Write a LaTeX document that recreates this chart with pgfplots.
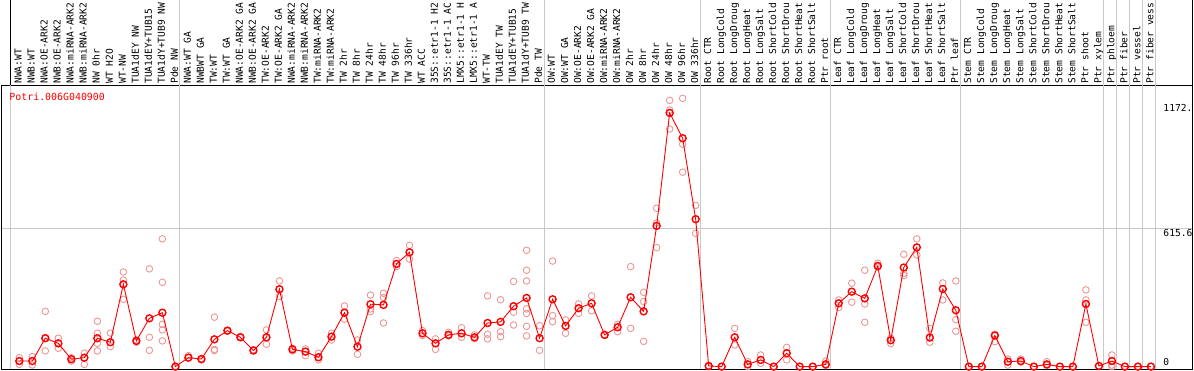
\documentclass[border=0pt]{standalone}
\usepackage{fontspec}
\usepackage{pgfplots}
\usepackage{pgfplotstable}
\pgfplotsset{compat=1.18}
\newfontfamily\monofont{DejaVu Sans Mono}
\definecolor{repcol}{RGB}{236,150,150}
\definecolor{gridgray}{RGB}{200,200,200}

\pgfplotstableread{
x y
0 25
1 25
2 127
3 104
4 33
5 40
6 127
7 109
8 368
9 115
10 216
11 241
12 0
13 40
14 34
15 122
16 161
17 131
18 72
19 131
20 346
21 77
22 67
23 42
24 134
25 241
26 89
27 279
28 276
29 459
30 511
31 149
32 104
33 142
34 149
35 131
36 195
37 200
38 270
39 307
40 127
41 301
42 182
43 261
44 283
45 142
46 176
47 310
48 247
49 629
50 1134
51 1021
52 659
53 3
54 0
55 131
56 10
57 30
58 0
59 60
60 0
61 0
62 10
63 283
64 335
65 305
66 450
67 118
68 443
69 533
70 130
71 347
72 252
73 0
74 0
75 139
76 22
77 25
78 0
79 10
80 0
81 0
82 280
83 3
84 25
85 0
86 0
87 0
}\means

\pgfplotstableread{
x y
0 40
0 10
0 25
1 45
1 7
2 247
2 127
2 70
3 127
3 82
4 40
4 25
5 60
5 10
6 203
6 149
6 104
6 70
7 150
7 89
8 423
8 387
8 301
9 119
9 109
10 437
10 131
10 73
11 571
11 377
11 189
11 164
11 115
12 0
13 49
13 40
14 34
14 30
15 221
15 77
15 72
16 161
16 158
17 131
17 135
18 72
18 76
19 164
19 100
20 383
20 313
21 82
21 70
22 79
22 49
23 60
23 30
24 149
24 119
25 271
25 212
26 119
26 55
27 320
27 258
27 246
28 328
28 308
28 195
29 474
29 447
30 542
30 481
31 161
31 139
32 124
32 77
33 153
33 137
34 174
34 131
35 142
35 125
36 316
36 145
36 124
37 299
37 156
37 134
38 381
38 243
38 186
39 520
39 431
39 383
39 258
39 238
39 180
39 137
40 183
40 73
41 472
41 228
41 201
42 209
42 149
43 280
43 238
44 316
44 250
45 142
45 140
46 189
46 156
47 447
47 171
48 332
48 291
48 113
49 708
49 642
49 532
50 1190
50 1147
50 1062
51 1199
51 994
51 869
52 721
52 596
53 3
53 0
54 0
55 171
55 97
56 22
56 0
57 52
57 15
58 0
59 86
59 30
60 0
61 0
62 25
62 5
63 298
63 264
64 373
64 288
65 431
65 280
65 198
66 462
66 445
67 127
67 103
68 502
68 417
68 407
69 571
69 499
70 171
70 109
71 374
71 298
72 383
72 210
72 158
73 0
74 0
75 145
75 112
76 34
76 7
77 34
77 20
78 0
79 22
79 5
80 0
81 0
82 343
82 298
82 198
83 3
84 52
84 7
84 0
85 0
86 0
87 0
}\reps

\begin{document}
\begin{tikzpicture}
\begin{axis}[name=ax, scale only axis, width=1191.7pt, height=284pt,
  xmin=-1.407, xmax=90.213, ymin=-10.7, ymax=1258.8,
  clip mode=individual,
  axis line style={black, line width=0.9pt},
  xtick={0,...,87},
  xticklabels={{NWA:WT},{NWB:WT},{NWA:OE-ARK2},{NWB:OE-ARK2},{NWA:miRNA-ARK2},{NWB:miRNA-ARK2},{NW 0hr},{WT H2O},{WT-NW},{TUA1dEY NW},{TUA1dEY+TUB15},{TUA1dY+TUB9 NW},{Pde NW},
  {NWA:WT GA},{NWBWT GA},{TW:WT},{TW:WT GA},{NWA:OE-ARK2 GA},{NWB:OE-ARK2 GA},{TW:OE-ARK2},{TW:OE-ARK2 GA},{NWA:miRNA-ARK2},{NWB:miRNA-ARK2},{TW:miRNA-ARK2},{TW:miRNA-ARK2},{TW 2hr},{TW 8hr},{TW 24hr},{TW 48hr},{TW 96hr},{TW 336hr},{WT ACC},{35S::etr1-1 H2},{35S::etr1-1 AC},{LMX5::etr1-1 H},{LMX5::etr1-1 A},{WT-TW},{TUA1dEY TW},{TUA1dEY+TUB15},{TUA1dY+TUB9 TW},{Pde TW},
  {OW:WT},{OW:WT GA},{OW:OE-ARK2},{OW:OE-ARK2 GA},{OW:miRNA-ARK2},{OW:miRNA-ARK2},{OW 2hr},{OW 8hr},{OW 24hr},{OW 48hr},{OW 96hr},{OW 336hr},
  {Root CTR},{Root LongCold},{Root LongDroug},{Root LongHeat},{Root LongSalt},{Root ShortCold},{Root ShortDrou},{Root ShortHeat},{Root ShortSalt},{Ptr root},
  {Leaf CTR},{Leaf LongCold},{Leaf LongDroug},{Leaf LongHeat},{Leaf LongSalt},{Leaf ShortCold},{Leaf ShortDrou},{Leaf ShortHeat},{Leaf ShortSalt},{Ptr leaf},
  {Stem CTR},{Stem LongCold},{Stem LongDroug},{Stem LongHeat},{Stem LongSalt},{Stem ShortCold},{Stem ShortDrou},{Stem ShortHeat},{Stem ShortSalt},{Ptr shoot},{Ptr xylem},{Ptr phloem},{Ptr fiber},{Ptr vessel},{Ptr fiber vess}},
  xticklabel pos=upper,
  xticklabel style={rotate=90, anchor=west, inner sep=0pt, font=\monofont\fontsize{9.6}{10}\selectfont, text height=7.1pt, text depth=2.3pt},
  xticklabel shift=1.2pt,
  major tick length=0pt,
  ytick={615.6}, yticklabels={}, ymajorgrids,
  major grid style={gridgray, line width=0.9pt},
]
\draw[gridgray, line width=0.9pt] (axis cs:-0.661,-10.7) -- (axis cs:-0.661,1258.8);
\draw[black, line width=0.9pt] (axis cs:-0.661,1258.8) -- (axis cs:-0.661,1638.8);
\pgfplotsinvokeforeach{12.339,40.339,52.339,62.339,72.339,83.339,84.339,85.339,86.339,87.339}{
  \draw[gridgray, line width=0.9pt] (axis cs:#1,-10.7) -- (axis cs:#1,1638.8);
}
\draw[black, line width=0.9pt] (axis cs:90.213,1258.8) -- (axis cs:90.213,1638.8);
\addplot[only marks, mark=o, mark size=3.3pt, mark options={repcol, line width=0.9pt}] table {\reps};
\addplot[red, line width=0.9pt, mark=o, mark size=3.5pt, mark options={red, line width=1.4pt}] table {\means};
\node[anchor=base west, inner sep=0pt, text=red, font=\monofont\fontsize{9.9}{10}\selectfont] at (axis cs:-0.77,1188) {Potri.006G040900};
\node[anchor=north west, inner sep=0pt, text height=7.1pt, font=\monofont\fontsize{9.6}{10}\selectfont] at (axis cs:87.95,1172) {1172.};
\node[anchor=north west, inner sep=0pt, text height=7.1pt, font=\monofont\fontsize{9.6}{10}\selectfont] at (axis cs:87.95,615.6) {615.6};
\node[anchor=base west, inner sep=0pt, font=\monofont\fontsize{9.6}{10}\selectfont] at (axis cs:87.95,5) {0};
\end{axis}
\pgfresetboundingbox
\useasboundingbox ([xshift=-1pt,yshift=-1pt]ax.south west) rectangle ([xshift=1.3pt,yshift=85pt]ax.north east);
\end{tikzpicture}
\end{document}
